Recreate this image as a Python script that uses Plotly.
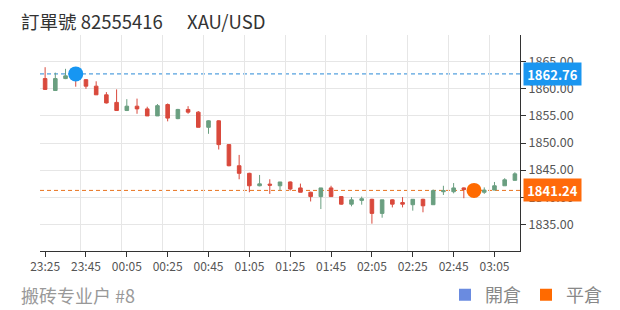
import plotly.graph_objects as go

times = ["23:25", "23:30", "23:35", "23:40", "23:45", "23:50", "23:55",
         "00:00", "00:05", "00:10", "00:15", "00:20", "00:25", "00:30", "00:35", "00:40", "00:45", "00:50", "00:55",
         "01:00", "01:05", "01:10", "01:15", "01:20", "01:25", "01:30", "01:35", "01:40", "01:45", "01:50", "01:55",
         "02:00", "02:05", "02:10", "02:15", "02:20", "02:25", "02:30", "02:35", "02:40", "02:45", "02:50", "02:55",
         "03:00", "03:05", "03:10", "03:15"]
opens = [1861.9, 1859.7, 1861.9, 1862.4, 1861.7, 1860.5, 1858.9, 1857.5, 1856.0, 1856.8, 1856.3, 1855.0,
         1857.1, 1854.5, 1856.2, 1855.7, 1852.9, 1854.1, 1849.7, 1845.8, 1844.4, 1842.1, 1842.4, 1842.1,
         1842.8, 1841.7, 1840.9, 1840.1, 1841.7, 1840.1, 1838.7, 1839.4, 1839.6, 1837.0, 1839.5, 1839.0,
         1838.6, 1839.6, 1838.6, 1841.0, 1841.0, 1841.7, 1841.4, 1840.9, 1841.3, 1842.1, 1843.1]
highs = [1864.0, 1863.0, 1863.7, 1863.2, 1861.8, 1861.4, 1859.4, 1859.9, 1858.1, 1858.2, 1856.7, 1857.2,
         1857.3, 1856.3, 1856.8, 1855.9, 1854.2, 1854.2, 1849.8, 1847.8, 1844.5, 1844.1, 1843.3, 1842.8,
         1842.9, 1842.5, 1841.0, 1841.7, 1842.1, 1840.2, 1840.0, 1840.1, 1839.7, 1839.5, 1839.6, 1840.0,
         1839.6, 1839.7, 1841.4, 1842.1, 1842.6, 1841.8, 1841.9, 1841.8, 1842.8, 1843.5, 1844.6]
lows = [1859.8, 1859.6, 1861.8, 1860.4, 1860.0, 1858.9, 1857.3, 1856.0, 1855.9, 1855.4, 1855.0, 1855.0,
        1854.0, 1854.4, 1855.4, 1852.9, 1851.7, 1848.8, 1845.7, 1843.3, 1840.9, 1842.0, 1840.6, 1841.2,
        1841.2, 1840.9, 1839.2, 1837.8, 1840.1, 1838.6, 1838.3, 1838.6, 1835.1, 1836.2, 1838.1, 1838.1,
        1837.5, 1837.2, 1838.6, 1840.4, 1840.7, 1839.8, 1840.6, 1840.6, 1841.3, 1842.1, 1843.1]
closes = [1859.9, 1861.9, 1862.4, 1861.8, 1860.5, 1858.9, 1857.4, 1856.0, 1856.8, 1856.3, 1855.0, 1856.9,
          1854.6, 1856.2, 1855.7, 1852.9, 1854.1, 1849.7, 1845.8, 1844.4, 1842.1, 1842.45, 1842.2, 1842.8,
          1841.5, 1840.9, 1840.1, 1841.7, 1840.1, 1838.7, 1839.5, 1839.7, 1837.0, 1839.5, 1838.7, 1838.7,
          1839.6, 1838.4, 1841.2, 1841.2, 1841.7, 1841.4, 1841.0, 1841.3, 1842.1, 1843.2, 1844.3]
tick_labels = ["23:25", "23:45", "00:05", "00:25", "00:45", "01:05", "01:25",
               "01:45", "02:05", "02:25", "02:45", "03:05"]
open_time, open_price = "23:40", 1862.76
close_time, close_price = "02:55", 1841.24
order_no = "82555416"
symbol = "XAU/USD"
account = "搬砖专业户 #8"
legend_names = ["開倉", "平倉"]


def to_dt(hm, sec="00"):
    day = "2021-01-01" if int(hm[:2]) >= 12 else "2021-01-02"
    return f"{day} {hm}:{sec}"


xs = [to_dt(t) for t in times]
RED = "#d9493c"
GREEN = "#6a9f80"
BLUE = "#1796f2"
ORANGE = "#ff6a00"
FONT = "Noto Sans CJK TC"

fig = go.Figure()
fig.add_trace(go.Candlestick(
    x=xs, open=opens, high=highs, low=lows, close=closes,
    increasing=dict(line=dict(color=GREEN, width=1), fillcolor=GREEN),
    decreasing=dict(line=dict(color=RED, width=1), fillcolor=RED),
    whiskerwidth=0, hoverinfo="skip", showlegend=False))

fig.add_trace(go.Scatter(x=[to_dt(open_time)], y=[open_price], mode="markers",
                         marker=dict(size=15, color=BLUE), showlegend=False, hoverinfo="skip"))
fig.add_trace(go.Scatter(x=[to_dt(close_time)], y=[close_price], mode="markers",
                         marker=dict(size=15, color=ORANGE), showlegend=False, hoverinfo="skip"))

legend_colors = ["#6a8be0", ORANGE]
for name, col in zip(legend_names, legend_colors):
    fig.add_trace(go.Scatter(x=[None], y=[None], mode="markers", name=name,
                             marker=dict(symbol="square", size=12, color=col)))

fig.add_shape(type="line", xref="paper", x0=0, x1=1, yref="y", y0=open_price, y1=open_price,
              line=dict(color="#2a8ad6", width=1, dash="4px,3px"), layer="below")
fig.add_shape(type="line", xref="paper", x0=0, x1=1, yref="y", y0=close_price, y1=close_price,
              line=dict(color="#e8731e", width=1, dash="4px,3px"), layer="below")

for price, col in [(open_price, "#1a96f0"), (close_price, "#ff6a0a")]:
    fig.add_annotation(x=1, xref="paper", xanchor="left", xshift=3, y=price, yref="y",
                       text=f"<b>{price:.2f}</b>", showarrow=False, bgcolor=col,
                       font=dict(family=FONT, size=13, color="white"),
                       width=55, height=20, borderpad=1, align="center")

fig.add_annotation(x=-21 / 480, xref="paper", xanchor="left", y=1 + 14 / 216, yref="paper",
                   yanchor="middle", text=f"訂單號 {order_no}", showarrow=False,
                   font=dict(family=FONT, size=18.5, color="#333333"))
fig.add_annotation(x=145 / 480, xref="paper", xanchor="left", y=1 + 14 / 216, yref="paper",
                   yanchor="middle", text=symbol, showarrow=False,
                   font=dict(family=FONT, size=18.5, color="#333333"))
fig.add_annotation(x=-21 / 480, xref="paper", xanchor="left", y=-44 / 216, yref="paper",
                   yanchor="middle", text=account, showarrow=False,
                   font=dict(family=FONT, size=18, color="#999999"))

fig.update_layout(
    width=620, height=310,
    margin=dict(l=40, r=100, t=35, b=59, autoexpand=False),
    paper_bgcolor="white", plot_bgcolor="white",
    boxgap=0.5,
    font=dict(family=FONT, size=12, color="#555555"),
    showlegend=True,
    legend=dict(orientation="h", x=(445 - 40) / 480, xanchor="left", y=-44 / 216, yanchor="middle",
                font=dict(family=FONT, size=18, color="#888888"), bgcolor="rgba(0,0,0,0)",
                itemclick=False, traceorder="normal"),
    xaxis=dict(
        type="date",
        range=[to_dt("23:22", "30"), to_dt("03:17", "30")],
        rangeslider=dict(visible=False),
        tickvals=[to_dt(t) for t in tick_labels], ticktext=tick_labels,
        showgrid=False, showline=True, linecolor="#333333", linewidth=1,
        ticks="outside", ticklen=5, tickcolor="#333333",
        tickfont=dict(family=FONT, size=12, color="#555555"),
        minor=dict(tick0=to_dt("23:22", "30"), dtick=1200000, showgrid=True,
                   gridcolor="#e6e6e6", gridwidth=1, ticks=""),
        zeroline=False, fixedrange=True,
    ),
    yaxis=dict(
        side="right", range=[1830.05, 1869.95], tick0=1830, dtick=5, tickformat=".2f",
        showgrid=True, gridcolor="#e6e6e6", showline=True, linecolor="#333333", linewidth=1,
        ticks="outside", ticklen=5, tickcolor="#333333",
        tickfont=dict(family=FONT, size=12.5, color="#555555"),
        zeroline=False, fixedrange=True,
    ),
)

fig.write_html("out.html")
